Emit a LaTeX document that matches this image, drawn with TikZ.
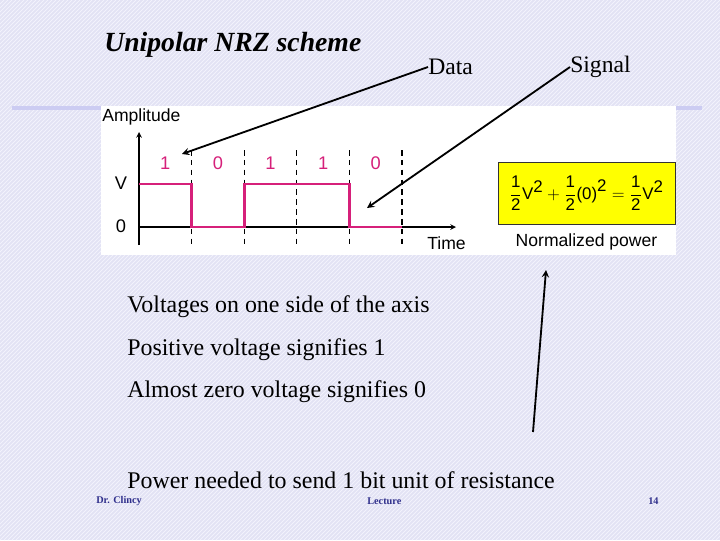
\documentclass[tikz,border=0pt]{standalone}
\usepackage{fontspec}
\setmainfont{Liberation Serif}
\setsansfont{Liberation Sans}
\usepackage{tikz}
\usetikzlibrary{positioning, arrows.meta}

\definecolor{slidebg}{RGB}{226,226,244}
\definecolor{slidehatch}{RGB}{242,242,252}
\definecolor{slideband}{RGB}{204,204,242}
\definecolor{pulse}{RGB}{214,32,122}
\definecolor{footblue}{RGB}{48,48,140}
\definecolor{boxyellow}{RGB}{255,255,0}

\begin{document}
\begin{tikzpicture}[
    x=0.025cm, y=-0.025cm, % one unit is one pixel of the slide, y pointing down
    heading/.style={font=\fontsize{19.7}{24}\selectfont\bfseries\itshape, anchor=west, inner sep=0pt},
    callout/.style={font=\fontsize{16.8}{20}\selectfont, anchor=west, inner sep=0pt},
    bullet/.style={font=\fontsize{17}{20}\selectfont, anchor=west, inner sep=0pt},
    plotlabel/.style={font=\sffamily\fontsize{12.5}{14}\selectfont, inner sep=0pt},
    levellabel/.style={plotlabel, font=\sffamily\fontsize{13}{15}\selectfont},
    bitlabel/.style={levellabel, text=pulse},
    footer/.style={font=\fontsize{7.3}{9}\selectfont\bfseries, text=footblue, anchor=west, inner sep=0pt},
    powerbox/.style={
        draw=black!80,
        fill=boxyellow,
        line width=0.6pt,
        minimum width=4.42cm,
        minimum height=1.57cm,
        font=\sffamily\fontsize{12}{14}\selectfont
    },
    pointer/.style={-stealth, line width=1.3pt, black},
    axis/.style={-stealth, line width=0.8pt, black},
    boundary/.style={dash pattern=on 4pt off 3pt, line width=0.8pt, black},
    pulseline/.style={pulse, line width=2pt, line join=miter},
    hatch/.style={slidehatch, line width=0.7pt}
]

% Slide background with its fine hatching
\fill[slidebg] (0,0) rectangle (720,540);
\useasboundingbox (0,0) rectangle (720,540);
\begin{scope}
    \clip (0,0) rectangle (720,540);
    \foreach \k in {-540,-536,...,720}
        \draw[hatch] (\k,540) -- (\k+540,0);
\end{scope}

% Band and image panel
\fill[slideband] (12,106) rectangle (702,110);
\fill[white] (101,106) rectangle (676,255);

% Title and callouts
\node[heading] (title) at (104,45) {Unipolar NRZ scheme};
\node[callout] (data) at (428,67) {Data};
\node[callout] (signal) at (570,67) {Signal};

% Axes of the plot
\coordinate (origin) at (139,227);
\coordinate (ybottom) at (139,245);
\coordinate (ytop) at (139,132);
\coordinate (xend) at (456,227);
\draw[axis] (ybottom) -- (ytop);
\draw[axis] (origin) -- (xend);
\node[plotlabel, anchor=west] (amp) at (102,117) {Amplitude};
\node[plotlabel, anchor=north east] (time) at (466,236) {Time};
\node[levellabel] (vlevel) at (121,183) {V};
\node[levellabel] (zlevel) at (121,226) {0};

% Bit boundaries and bits
\foreach \i in {1,...,5}
    \draw[boundary] ({139+52.6*\i},150) -- ({139+52.6*\i},245);
\foreach \b [count=\i] in {1,0,1,1,0}
    \node[bitlabel] (bit\i) at ({139+52.6*(\i-0.5)},163) {\b};

% The signal
\draw[pulseline] (139,184) -- (191.6,184) -- (191.6,227) -- (244.2,227) -- (244.2,184)
    -- (349.4,184) -- (349.4,227) -- (402,227);

% Normalized power
\node[powerbox] (power) at (586.5,193.5)
    {$\displaystyle\frac{\textsf{1}}{\textsf{2}}\textsf{V}^{\textsf{2}}
     + \frac{\textsf{1}}{\textsf{2}}\textsf{(0)}^{\textsf{2}}
     = \frac{\textsf{1}}{\textsf{2}}\textsf{V}^{\textsf{2}}$};
\node[plotlabel, below=0.2cm of power] (normpow) {Normalized power};

% Arrows from the callouts
\coordinate (datatip) at (182,154);
\coordinate (signaltip) at (367,208);
\coordinate (powerfoot) at (533,432);
\coordinate (powertip) at (546,270);
\draw[pointer] (data.west) -- (datatip);
\draw[pointer] (signal.west) -- (signaltip);
\draw[pointer] (powerfoot) -- (powertip);

% Text lines
\node[bullet] (oneside) at (127,307) {Voltages on one side of the axis};
\node[bullet] (positive) at (127,350) {Positive voltage signifies 1};
\node[bullet] (zero) at (127,392) {Almost zero voltage signifies 0};
\node[bullet] (needed) at (127,480) {Power needed to send 1 bit unit of resistance};

% Footer
\node[footer] (author) at (96,501) {Dr. Clincy};
\node[footer] (course) at (367,501) {Lecture};
\node[footer] (page) at (648,501) {14};

\end{tikzpicture}
\end{document}
